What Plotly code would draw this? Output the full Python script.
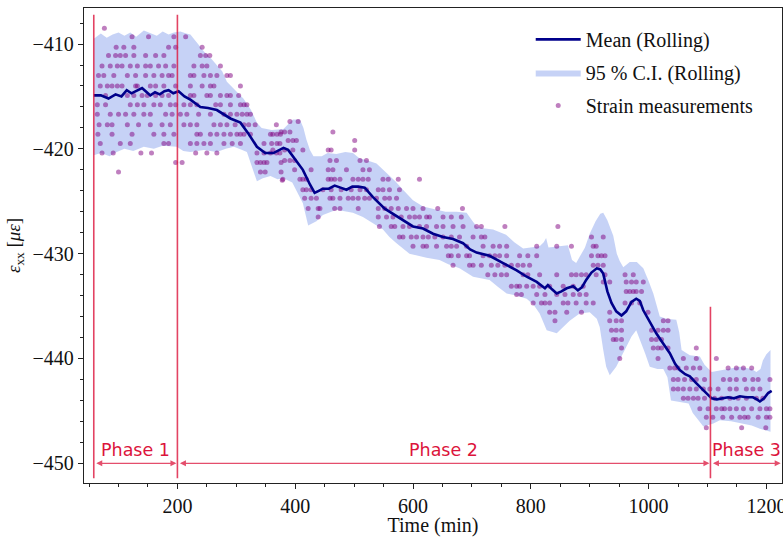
import plotly.graph_objects as go

# ---------------- data ----------------
mean_time = [58, 70, 83, 95, 105, 114, 122, 130, 140, 148, 154, 162, 170, 178, 185, 193, 202,
             212, 222, 239, 252, 267, 280, 290, 307, 320, 335, 349, 363, 372, 380, 388, 396,
             413, 425, 433, 440, 447, 457, 467, 477, 487, 497, 507, 518, 532, 552, 569, 586,
             600, 617, 634, 651, 668, 685, 697, 708, 730, 753, 776, 793, 810, 824, 829, 836,
             844, 852, 861, 872, 880, 887, 894, 903, 912, 918, 923, 930, 937, 945, 954, 962,
             971, 979, 985, 991, 1000, 1013, 1025, 1036, 1045, 1053, 1062, 1070, 1080, 1087,
             1097, 1107, 1116, 1126, 1135, 1145, 1155, 1166, 1177, 1184, 1189, 1196, 1203, 1209]
mean_value = [-414.9, -414.9, -415.2, -414.8, -415.0, -414.4, -414.7, -414.5, -414.2, -414.6,
              -414.9, -414.6, -414.8, -414.5, -414.4, -414.7, -414.5, -415.0, -415.3, -416.0,
              -416.1, -416.3, -416.8, -417.1, -417.5, -418.5, -419.8, -420.4, -420.4, -420.1,
              -419.9, -420.1, -420.7, -422.0, -423.4, -424.2, -424.0, -423.8, -423.8, -423.5,
              -423.7, -423.9, -423.6, -423.6, -423.7, -424.6, -425.7, -426.3, -426.9, -427.4,
              -427.6, -428.1, -428.4, -428.6, -429.0, -429.6, -429.9, -430.2, -430.9, -431.6,
              -432.2, -432.7, -433.3, -433.0, -433.4, -433.8, -433.6, -433.3, -433.1, -433.5,
              -433.2, -432.5, -431.8, -431.4, -431.5, -431.9, -433.6, -434.7, -435.5, -435.9,
              -435.5, -434.6, -434.3, -434.5, -435.4, -436.3, -437.6, -438.6, -439.5, -440.5,
              -441.1, -441.5, -441.7, -442.3, -442.7, -443.3, -443.8, -443.9, -443.8, -443.7,
              -443.8, -443.6, -443.7, -443.7, -443.9, -444.1, -443.8, -443.3, -443.1]

ci_upper_time = [58, 70, 80, 90, 100, 110, 120, 130, 143, 155, 165, 175, 185, 194, 205, 215, 222,
                 235, 245, 256, 267, 276, 284, 298, 312, 325, 335, 343, 360, 380, 390, 396, 408,
                 414, 419, 425, 431, 445, 455, 470, 485, 498, 509, 523, 538, 555, 570, 583, 600,
                 617, 640, 655, 674, 691, 700, 708, 722, 736, 758, 772, 787, 800, 815, 822, 826,
                 830, 845, 863, 870, 877, 883, 892, 900, 910, 918, 923, 930, 940, 946, 951, 957,
                 968, 980, 991, 1000, 1008, 1019, 1030, 1047, 1052, 1056, 1070, 1087, 1095, 1107,
                 1126, 1140, 1155, 1175, 1183, 1190, 1194, 1200, 1207]
ci_upper = [-409.5, -409.0, -409.4, -409.1, -408.9, -409.2, -408.9, -409.3, -408.7, -409.0,
            -409.2, -408.8, -409.1, -408.9, -408.8, -409.0, -409.1, -410.0, -410.7, -411.3,
            -412.0, -412.6, -413.6, -414.4, -415.2, -416.3, -417.5, -418.0, -418.2, -418.1,
            -417.5, -417.2, -417.2, -418.0, -419.1, -420.1, -420.7, -420.7, -420.4, -420.5,
            -420.3, -420.4, -420.9, -421.1, -421.4, -422.3, -423.1, -423.9, -424.9, -425.5,
            -425.8, -426.0, -426.0, -426.1, -426.8, -427.4, -427.6, -427.7, -428.2, -428.9,
            -429.5, -429.4, -429.3, -428.9, -428.5, -429.4, -429.3, -429.2, -430.6, -430.9,
            -430.3, -429.4, -428.1, -426.9, -426.2, -426.1, -426.8, -428.3, -430.0, -430.7,
            -431.3, -430.8, -430.8, -431.4, -432.6, -433.8, -436.0, -436.2, -436.3, -437.5,
            -439.2, -439.7, -439.8, -440.6, -441.3, -441.1, -440.9, -440.8, -441.0, -441.3,
            -441.0, -440.2, -439.6, -439.2]

ci_lower_time = [58, 70, 85, 97, 110, 125, 143, 160, 175, 199, 210, 222, 245, 267, 282, 296, 310,
                 318, 324, 330, 335, 345, 358, 370, 380, 395, 405, 413, 422, 436, 447, 470, 498,
                 515, 527, 549, 560, 572, 594, 623, 645, 660, 679, 702, 730, 745, 759, 775, 793,
                 805, 815, 822, 827, 844, 855, 866, 883, 900, 912, 917, 923, 928, 934, 945, 953,
                 962, 971, 979, 986, 994, 1002, 1015, 1025, 1032, 1038, 1050, 1068, 1075, 1085,
                 1093, 1110, 1121, 1140, 1160, 1175, 1189, 1200, 1207]
ci_lower = [-420.6, -420.4, -420.7, -420.3, -420.0, -420.2, -419.8, -420.0, -419.7, -419.8,
            -420.2, -420.3, -420.1, -420.3, -420.0, -419.8, -420.1, -420.3, -421.3, -422.3,
            -423.1, -422.8, -422.6, -422.9, -422.8, -423.2, -424.3, -425.2, -427.3, -426.9,
            -426.3, -425.8, -426.1, -426.5, -426.9, -427.7, -428.4, -429.0, -430.0, -430.4,
            -430.6, -431.0, -431.4, -432.2, -432.5, -433.2, -433.8, -434.0, -434.3, -434.9,
            -435.7, -436.6, -437.3, -437.6, -437.0, -436.4, -435.7, -435.6, -436.2, -437.0,
            -439.2, -440.8, -441.6, -440.8, -439.8, -438.9, -437.9, -437.3, -438.3, -439.5,
            -440.8, -441.0, -441.0, -441.8, -444.0, -444.1, -444.3, -445.2, -445.9, -446.5,
            -446.2, -445.9, -446.0, -446.2, -446.4, -446.7, -446.9, -447.0]

# strain measurements: (measured level, times at which it was recorded)
strain_rows_a = [
    (-408.5, [76]),
    (-409.3, [123, 151, 194, 214]),
    (-410.3, [96, 109, 126, 185, 197, 242]),
    (-411.1, [83, 95, 103, 112, 126, 146, 163, 177, 239, 248, 255]),
    (-412.1, [72, 86, 98, 106, 120, 132, 146, 154, 168, 180, 194, 228, 242, 250, 273]),
    (-413.0, [66, 75, 92, 115, 129, 146, 160, 174, 185, 191, 222, 228, 245, 256, 267, 284, 290]),
    (-414.0, [69, 81, 89, 98, 106, 129, 132, 154, 163, 177, 197, 222, 242, 256, 262, 307]),
    (-414.9, [78, 115, 126, 140, 149, 163, 174, 185, 222, 228, 250, 256, 273, 284, 290, 304]),
    (-415.8, [64, 78, 120, 132, 143, 160, 171, 188, 197, 211, 222, 233, 265, 273, 290, 307, 313, 318]),
    (-416.7, [64, 86, 100, 112, 126, 143, 154, 180, 191, 205, 216, 236, 256, 279, 290, 301, 310, 318, 324]),
    (-417.7, [67, 81, 89, 115, 134, 154, 174, 188, 211, 222, 233, 262, 273, 284, 298, 313, 321, 332, 368]),
    (-418.6, [65, 89, 123, 160, 177, 194, 233, 239, 256, 267, 279, 290, 301, 307, 313, 324, 358, 362, 369, 375]),
    (-419.5, [69, 103, 120, 177, 185, 222, 233, 245, 256, 279, 293, 307, 347, 360, 369, 374]),
    (-420.4, [72, 91, 138, 156, 231, 250, 267, 335, 347, 358, 368, 374]),
    (-421.3, [197, 208, 335, 341, 347, 352, 376]),
    (-422.2, [100, 341, 349, 376]),
    (-423.0, [378]),
]
strain_rows_b = [
    (-417.4, [391, 405]),
    (-418.4, [376, 382, 391, 464]),
    (-419.2, [388, 396, 402, 501]),
    (-420.1, [362, 382, 396, 413, 456, 461, 501]),
    (-421.1, [382, 391, 399, 459, 470, 510, 521]),
    (-422.0, [399, 427, 456, 464, 487, 515, 526]),
    (-422.9, [379, 408, 413, 419, 456, 461, 467, 476, 498, 507, 515, 524, 549, 558, 575, 611]),
    (-423.9, [413, 419, 427, 447, 461, 478, 495, 510, 521, 541, 549, 560, 577]),
    (-424.7, [416, 427, 436, 459, 464, 476, 490, 498, 507, 518, 526, 538, 552, 560, 572]),
    (-425.7, [422, 439, 442, 467, 476, 507, 541, 552, 563, 575, 589, 600, 617, 642, 684]),
    (-426.5, [439, 541, 555, 566, 580, 594, 603, 611, 623, 628, 651, 665, 682]),
    (-427.4, [543, 563, 569, 583, 594, 611, 623, 640, 651, 668, 685, 708, 716, 756, 846]),
    (-428.4, [577, 583, 597, 606, 617, 626, 637, 651, 665, 679, 702, 716, 722, 903, 923]),
    (-429.3, [600, 617, 623, 640, 657, 665, 674, 691, 719, 736, 747, 759, 810, 844, 869, 906, 911]),
    (-430.2, [660, 665, 677, 691, 696, 719, 730, 739, 747, 759, 781, 795, 810, 903, 914, 920, 926]),
]
strain_rows_c = [
    (-431.1, [668, 696, 702, 716, 733, 744, 756, 767, 778, 787, 798, 906, 914, 923]),
    (-432.0, [727, 739, 750, 759, 787, 795, 815, 844, 869, 877, 886, 894, 911, 926, 960, 974]),
    (-432.7, [923, 934, 962, 971, 979, 991]),
    (-433.1, [767, 776, 781, 793, 804, 815, 832, 855, 872, 889]),
    (-433.6, [962, 968, 974, 979, 988]),
    (-433.9, [776, 784, 810, 824, 844, 858, 872, 883, 894]),
    (-434.7, [804, 818, 824, 832, 855, 863, 877, 894, 906, 960, 971, 985]),
    (-435.6, [832, 841, 861, 886, 934, 999]),
    (-436.4, [841, 934, 945, 954, 1025, 1033]),
    (-437.3, [937, 945, 954, 1005, 1016, 1025, 1033]),
    (-438.2, [940, 945, 954, 1005, 1013, 1022]),
    (-439.0, [954, 1008, 1016, 1022, 1033, 1081]),
    (-440.0, [951, 1016, 1059, 1081, 1115]),
]
strain_rows_d = [
    (-440.9, [1036, 1044, 1050, 1064, 1076, 1087, 1135, 1149, 1161, 1175]),
    (-442.0, [1042, 1050, 1061, 1073, 1081, 1095, 1127, 1138, 1149, 1163, 1177, 1186, 1206]),
    (-442.9, [1042, 1050, 1059, 1070, 1081, 1093, 1104, 1118, 1138, 1149, 1166, 1177, 1189]),
    (-443.8, [1059, 1067, 1076, 1084, 1095, 1112, 1124, 1138, 1152, 1166, 1183, 1194]),
    (-444.8, [1087, 1101, 1115, 1124, 1129, 1138, 1149, 1161, 1175, 1189, 1200, 1206]),
    (-445.6, [1098, 1109, 1126, 1141, 1155, 1163, 1169, 1186, 1200, 1206]),
    (-446.6, [1098, 1158, 1199]),
]

phase_bounds = [58, 200, 1105, 1226]
phase_labels = ["Phase 1", "Phase 2", "Phase 3"]
phase_line_top = [0.986, 0.986, 0.371]   # fraction of axes height
x_ticks = [200, 400, 600, 800, 1000, 1200]
y_ticks = [-410, -420, -430, -440, -450]
x_range = [41.4, 1226.5]
y_range = [-451.88, -406.56]

# ---------------- figure ----------------
strain_t, strain_v = [], []
for rows in (strain_rows_a, strain_rows_b, strain_rows_c, strain_rows_d):
    for level, times in rows:
        for t in times:
            strain_t.append(t)
            strain_v.append(level)

SERIF = "Liberation Serif, Times New Roman, serif"
SANS = "DejaVu Sans, sans-serif"
CRIMSON = "#dc143c"

fig = go.Figure()

fig.add_trace(go.Scatter(
    x=ci_upper_time + ci_lower_time[::-1],
    y=ci_upper + ci_lower[::-1],
    fill="toself", fillcolor="rgba(65,105,225,0.30)",
    line=dict(width=0), mode="lines",
    name="95 % C.I. (Rolling)", legendrank=2, legendgroup="b",
    hoverinfo="skip"))

fig.add_trace(go.Scatter(
    x=strain_t, y=strain_v, mode="markers",
    marker=dict(size=5, color="rgba(128,0,128,0.5)", line=dict(width=0)),
    name="Strain measurements", legendrank=3, legendgroup="c"))

fig.add_trace(go.Scatter(
    x=mean_time, y=mean_value, mode="lines",
    line=dict(color="#00008b", width=2.6),
    name="Mean (Rolling)", legendrank=1, legendgroup="a"))

# phase boundary lines
for xb, top in zip(phase_bounds[:3], phase_line_top):
    fig.add_shape(type="line", xref="x", yref="paper",
                  x0=xb, x1=xb, y0=0.01, y1=top,
                  line=dict(color="rgba(220,20,60,0.8)", width=1.6), layer="above")

# phase arrows and labels
for i, label in enumerate(phase_labels):
    a, b = phase_bounds[i], phase_bounds[i + 1]
    fig.add_annotation(x=b, y=-450, ax=a, ay=-450, xref="x", yref="y",
                       axref="x", ayref="y", text="", showarrow=True,
                       arrowhead=2, startarrowhead=2, arrowside="end+start",
                       arrowsize=1, startarrowsize=1, arrowwidth=1.2,
                       arrowcolor="rgba(220,20,60,0.75)", standoff=1, startstandoff=1)
    fig.add_annotation(x=(a + b) / 2, y=-450, xref="x", yref="y", text=label,
                       showarrow=False, yanchor="bottom", yshift=1,
                       font=dict(family=SANS, size=17.5, color=CRIMSON))

axis_common = dict(showline=True, linecolor="#222", linewidth=1.3, mirror=True,
                   ticks="outside", ticklen=5, tickwidth=1.2, tickcolor="#222",
                   showgrid=False, zeroline=False, ticklabeloverflow="allow",
                   automargin=False,
                   tickfont=dict(family=SERIF, size=20, color="#111"))

fig.update_xaxes(range=x_range, tickvals=x_ticks,
                 minor=dict(dtick=50, tick0=0, ticklen=3, tickwidth=1, tickcolor="#222",
                            ticks="outside", showgrid=False),
                 title=dict(text="Time (min)", font=dict(family=SERIF, size=20, color="#111"),
                            standoff=9),
                 **axis_common)
fig.update_yaxes(range=y_range, tickvals=y_ticks,
                 minor=dict(dtick=2, tick0=0, ticklen=3, tickwidth=1, tickcolor="#222",
                            ticks="outside", showgrid=False),
                 title=dict(text="<i>ε</i><sub>xx</sub> [<i>με</i>]",
                            font=dict(family=SERIF, size=19, color="#111"), standoff=6),
                 **axis_common)

fig.update_layout(
    width=783, height=537,
    margin=dict(l=84, r=1, t=8, b=54),
    plot_bgcolor="white", paper_bgcolor="white",
    showlegend=True,
    legend=dict(x=0.64, y=0.975, xanchor="left", yanchor="top",
                bgcolor="rgba(0,0,0,0)", borderwidth=0, tracegroupgap=4,
                font=dict(family=SERIF, size=20, color="#111"), itemwidth=45),
)

fig.write_html("out.html")
